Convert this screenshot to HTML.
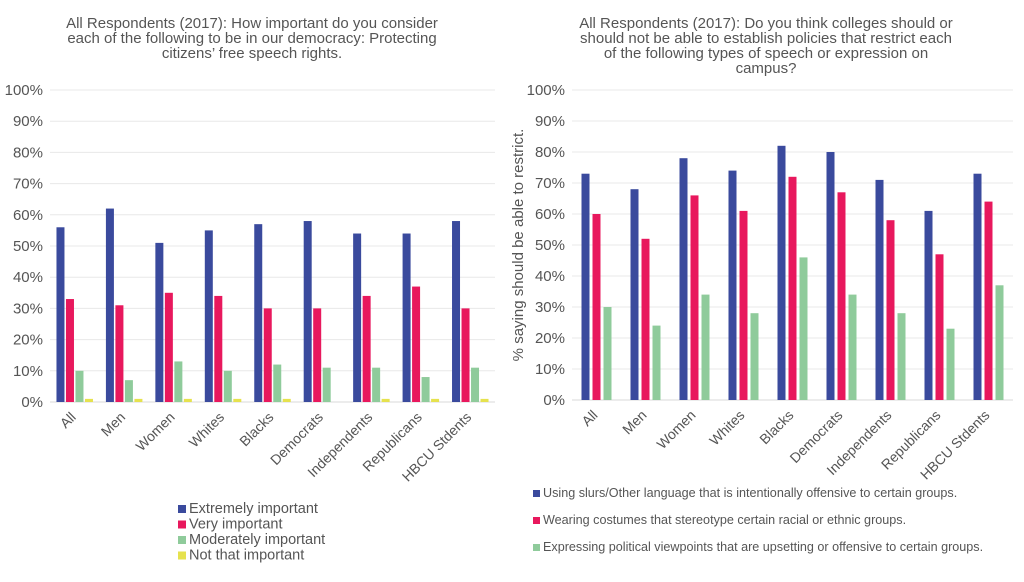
<!DOCTYPE html>
<html><head><meta charset="utf-8"><style>
body{margin:0;background:#fff;width:1024px;height:577px;overflow:hidden;font-family:"Liberation Sans",sans-serif;}
svg text{font-family:"Liberation Sans",sans-serif;fill:#555;}
</style></head><body>
<svg id="c" width="1024" height="577"></svg>
<script>
const cats=["All","Men","Women","Whites","Blacks","Democrats","Independents","Republicans","HBCU Stdents"];
const lExtreme=[56,62,51,55,57,58,54,54,58];
const lVery=[33,31,35,34,30,30,34,37,30];
const lModerate=[10,7,13,10,12,11,11,8,11];
const lNot=[1,1,1,1,1,0,1,1,1];
const rSlurs=[73,68,78,74,82,80,71,61,73];
const rCostumes=[60,52,66,61,72,67,58,47,64];
const rPolitical=[30,24,34,28,46,34,28,23,37];
const ticks=[0,10,20,30,40,50,60,70,80,90,100];
const colors=["#3a4a9d","#e8185d","#8fcb9b","#e6e24e"];
const NS="http://www.w3.org/2000/svg";
const svg=document.getElementById('c');
function el(t,a,txt){const e=document.createElementNS(NS,t);for(const k in a)e.setAttribute(k,a[k]);if(txt!==undefined)e.textContent=txt;svg.appendChild(e);return e;}
function chart(id,x0,x1,y0,y1,series,bw,gap){
  const ys=v=>y0-(v/100)*(y0-y1);
  const cw=(x1-x0)/cats.length;
  ticks.forEach(t=>{
    const l=el('line',{x1:x0,x2:x1,y1:ys(t),y2:ys(t),stroke:t==0?'#d9d9d9':'#e8e8e8','stroke-width':1});
    
    
    const tx=el('text',{x:x0-7,y:ys(t)+5,'text-anchor':'end','font-size':15},t+'%');
    
    
  });
  const n=series.length, gw=n*bw+(n-1)*gap;
  cats.forEach((c,i)=>{
    const cx=x0+cw*i+cw/2;
    series.forEach((s,j)=>{
      const v=s[i];
      const r=el('rect',{x:cx-gw/2+j*(bw+gap),y:ys(v),width:bw,height:ys(0)-ys(v),fill:colors[j]});
      
      
    });
    const lx=cx+2, ly=y0+16;
    const t=el('text',{x:lx,y:ly,'text-anchor':'end','font-size':14,transform:`rotate(-45 ${lx} ${ly})`},c);
    
    
  });
}
chart('left',50,495,402,90,[lExtreme,lVery,lModerate,lNot],8,1.5);
chart('right',572,1013,400,90,[rSlurs,rCostumes,rPolitical],8,3);
function tl(lines,x,y,name){lines.forEach((s,i)=>{const t=el('text',{x:x,y:y+i*15,'text-anchor':'middle','font-size':15},s);});}
tl(["All Respondents (2017): How important do you consider","each of the following to be in our democracy: Protecting","citizens’ free speech rights."],252,28,'left-title');
tl(["All Respondents (2017): Do you think colleges should or","should not be able to establish policies that restrict each","of the following types of speech or expression on","campus?"],766,28,'right-title');
const yt=el('text',{x:523,y:245,'text-anchor':'middle','font-size':15,transform:'rotate(-90 523 245)'},'% saying should be able to restrict.');

const ll=["Extremely important","Very important","Moderately important","Not that important"];
ll.forEach((s,i)=>{const y=512+i*15.5;
 const r=el('rect',{x:178,y:y-7,width:8,height:8,fill:colors[i]});
 const t=el('text',{x:189,y:y+1,'font-size':14.5},s);});
const rl=["Using slurs/Other language that is intentionally offensive to certain groups.","Wearing costumes that stereotype certain racial or ethnic groups.","Expressing political viewpoints that are upsetting or offensive to certain groups."];
rl.forEach((s,i)=>{const y=497+i*27;
 const r=el('rect',{x:533,y:y-7,width:7,height:7,fill:colors[i]});
 const t=el('text',{x:543,y:y,'font-size':12.6},s);});
</script>
</body></html>
